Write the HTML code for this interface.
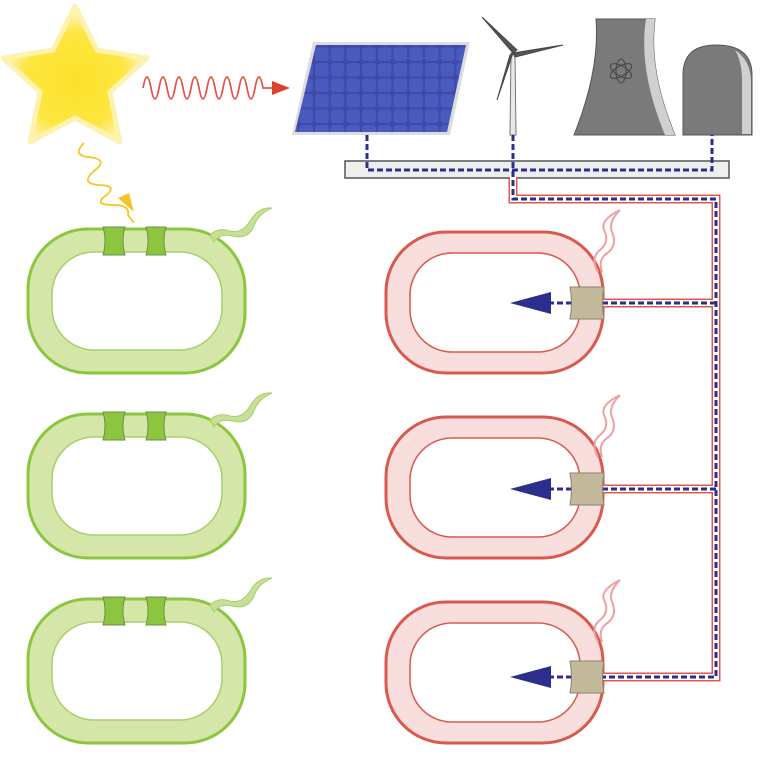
<!DOCTYPE html>
<html><head><meta charset="utf-8"><style>html,body{margin:0;padding:0;background:#fff}svg{display:block}</style></head>
<body>
<svg width="766" height="769" viewBox="0 0 766 769" xmlns="http://www.w3.org/2000/svg">
<defs>
<radialGradient id="sg" cx="50%" cy="55%" r="50%"><stop offset="0" stop-color="#fde22a"/><stop offset="0.7" stop-color="#fde640"/><stop offset="1" stop-color="#fdf4b8"/></radialGradient>
<pattern id="cells" x="0" y="0" width="15.7" height="15.5" patternUnits="userSpaceOnUse">
<rect width="15.7" height="15.5" fill="#3d4aa8"/><rect x="1" y="1" width="13.7" height="13.5" rx="3" fill="#4a5bc0"/></pattern>
<g id="green">
<rect x="28" y="0" width="217" height="144" rx="60" fill="#d4e6a8" stroke="#8cc63f" stroke-width="3"/>
<rect x="52" y="23" width="170" height="98" rx="42" fill="#fff" stroke="#a6d16a" stroke-width="1.5"/>
<path d="M103,-2 h22 q-4,14 0,28 h-22 q4,-14 0,-28z" fill="#8cc63f" stroke="#6e8f4a" stroke-width="1"/>
<path d="M146,-2 h20 q-4,14 0,28 h-20 q4,-14 0,-28z" fill="#8cc63f" stroke="#6e8f4a" stroke-width="1"/>
<path d="M210,6 q8,-8 20,-4 q12,3 20,-10 q8,-14 22,-13 q-14,6 -18,18 q-6,14 -22,10 q-12,-3 -18,6z" fill="#c7df98" stroke="#a6d16a" stroke-width="1"/>
</g>
<g id="red">
<rect x="386" y="0" width="217" height="141" rx="60" fill="#f9dede" stroke="#d9594c" stroke-width="3"/>
<rect x="410" y="21" width="170" height="99" rx="42" fill="#fff" stroke="#d9594c" stroke-width="1.5"/>
<path d="M598,40 q-8,-14 2,-22 q10,-8 4,-20 q-4,-10 16,-20 q-12,12 -8,22 q6,14 -6,22 q-8,6 -4,18" fill="none" stroke="#f0a0a0" stroke-width="2"/>
</g>
<g id="branch">
<line x1="572" y1="0" x2="530" y2="0" stroke="#2b2e8c" stroke-width="3" stroke-dasharray="6,3"/>
<polygon points="510,0 551,-11 551,11" fill="#2b2e8c"/>
<path d="M570,-16 h34 q-3,16 0,32 h-34 q3,-16 0,-32z" fill="#c2b89a" stroke="#8a8270" stroke-width="1"/>
</g>
</defs>

<!-- star -->
<polygon points="75,6 97,50 147,58 110,92 120,142 75,118 30,142 40,92 3,58 53,50" fill="url(#sg)" stroke="#fdf2b0" stroke-width="5" stroke-linejoin="round"/>
<!-- red wave -->
<path d="M143,88 q4,-22 8,0 t8,0 t8,0 t8,0 t8,0 t8,0 t8,0 t8,0 t8,0 t8,0 t8,0 t8,0 t8,0 t8,0 t8,0 h14" fill="none" stroke="#e0584c" stroke-width="1.8"/>
<polygon points="290,88 272,81 272,95" fill="#d9442e"/>
<!-- yellow wave -->
<path d="M84,143 q-12,12 4,14 q22,2 6,14 q-14,12 4,14 q22,0 6,12 q-10,8 10,8 q16,0 14,10 l6,8" fill="none" stroke="#f5c526" stroke-width="1.8" stroke-linejoin="round"/>
<polygon points="134,212 118,198 129,193" fill="#f5c526"/>

<!-- solar panel -->
<polygon points="313,42 470,42 450,135 292,135" fill="#dcdcdc"/>
<polygon points="316,45 466,45 447,132 295,132" fill="url(#cells)"/>
<!-- turbine -->
<polygon points="510,135 516,135 515,53 511,53" fill="#e8e8e8" stroke="#777" stroke-width="1"/>
<path d="M513,53 L482,17 L517,50 Z M513,53 L563,45 L515,57 Z M513,53 L497,100 L510,55 Z" fill="#555" stroke="#444" stroke-width="1"/>
<!-- cooling tower -->
<path d="M596,19 H655 Q648,70 675,135 H574 Q600,70 596,19Z" fill="#7a7a7a" stroke="#555" stroke-width="1"/>
<path d="M646,19 H655 Q648,70 675,135 H665 Q638,70 646,19Z" fill="#d0d0d0"/>
<g stroke="#444" stroke-width="1" fill="none"><ellipse cx="621" cy="71" rx="5" ry="12"/><ellipse cx="621" cy="71" rx="5" ry="12" transform="rotate(60 621 71)"/><ellipse cx="621" cy="71" rx="5" ry="12" transform="rotate(-60 621 71)"/></g>
<!-- dome -->
<path d="M683,135 V75 Q683,45 716,45 Q752,45 752,75 V135Z" fill="#7a7a7a" stroke="#555" stroke-width="1"/>
<path d="M735,50 Q750,60 751,80 V134 H742 V80 Q742,62 735,50Z" fill="#d0d0d0"/>

<!-- bar -->
<rect x="345" y="161" width="384" height="17" fill="#eee" stroke="#555" stroke-width="1.5"/>

<!-- cells -->
<use href="#green" transform="translate(0,229)"/>
<use href="#green" transform="translate(0,414)"/>
<use href="#green" transform="translate(0,599)"/>
<use href="#red" transform="translate(0,232)"/>
<use href="#red" transform="translate(0,417)"/>
<use href="#red" transform="translate(0,602)"/>

<!-- wire -->
<g fill="none" stroke-linejoin="miter">
<path d="M513,178 V199 H716 V677 H603 M716,303 H603 M716,489 H603" stroke="#e0584c" stroke-width="9"/>
<path d="M513,176 V199 H716 V677 H600 M716,303 H600 M716,489 H600" stroke="#fff" stroke-width="6"/>
<path d="M367,135 V170 H712 V135 M513,135 V199 H716 V677 H600 M716,303 H600 M716,489 H600" stroke="#2b2e8c" stroke-width="3" stroke-dasharray="6,3"/>
</g>
<use href="#branch" transform="translate(0,303)"/>
<use href="#branch" transform="translate(0,489)"/>
<use href="#branch" transform="translate(0,677)"/>
</svg>
</body></html>
